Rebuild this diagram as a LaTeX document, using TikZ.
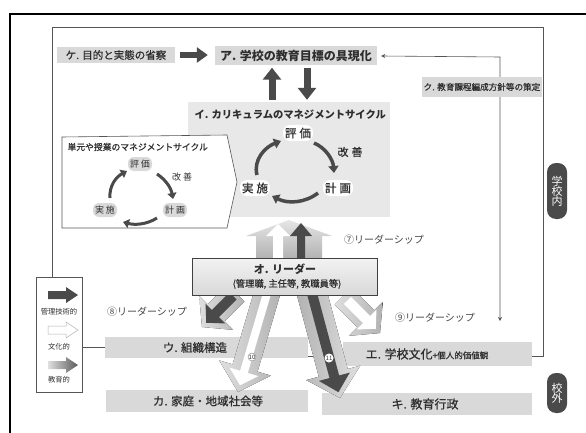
\documentclass[tikz,border=0pt]{standalone}
\usepackage{fontspec}
\setmainfont{Noto Sans CJK JP}
\newfontfamily\medfont{Noto Sans CJK JP}[FakeBold=0.8]
\usetikzlibrary{arrows.meta,calc}
\definecolor{boxg}{HTML}{D9D9D9}
\definecolor{regg}{HTML}{E8E8E8}
\definecolor{darkg}{HTML}{4A4A4A}
\definecolor{txt}{HTML}{2E2E2E}
\definecolor{lineg}{HTML}{555555}
\newcommand\warr[5]{\fill[#1] (-#2,-#3) -- (-#5,-#3) -- (-#5,-#4) -- (0,0) -- (-#5,#4) -- (-#5,#3) -- (-#2,#3) -- cycle;}
\newcommand\fs[1]{\fontsize{#1}{#1}\selectfont}
\begin{document}
\begin{tikzpicture}[x=1pt,y=-1pt,
  every node/.style={text=txt},
  box/.style={fill=boxg, inner sep=0pt},
  pill/.style={fill=boxg, rounded corners=6pt, inner sep=2pt, minimum height=14pt},
  wpill/.style={fill=white, rounded corners=7pt, inner sep=2pt, minimum height=16pt},
  bigarr/.style={draw=darkg, line width=7pt, -{Triangle[length=12pt,width=18pt]}},
  cyc/.style={draw=darkg, line width=3.5pt, -{Triangle[length=7pt,width=10pt]}},
  scyc/.style={draw=darkg, line width=3pt, -{Triangle[length=6pt,width=9pt]}},
  thinarr/.style={draw=lineg, line width=0.6pt},
  lab/.style={text=gray!55!black, font=\fs{10}},
  side/.style={fill=darkg, rounded corners=9pt, text=white, inner sep=2pt, minimum width=20pt, align=center, font=\fs{11}}
]
\useasboundingbox (0,0) rectangle (586,433);
\fill[white] (0,0) rectangle (586,433);
% black outer frame
\draw[line width=2.6pt] (10,433) -- (10,14) -- (586,14);
% school frame
\draw[lineg, line width=0.6pt] (52,280) -- (52,27) -- (543,27) -- (543,356) -- (300,356);

% top row
\node[box, minimum width=118pt, minimum height=16pt, font=\medfont\fs{10.5}] (ke) at (116,55) {ケ. 目的と実態の省察};
\node[box, minimum width=162pt, minimum height=19pt, font=\bfseries\fs{12}] (a) at (296,56) {ア. 学校の教育目標の具現化};
\coordinate (kc) at (500,57);
\coordinate (kb) at (500,321);
\draw[thinarr, {Stealth[length=4pt,width=4pt]}-{Stealth[length=4pt,width=4pt]}] ([xshift=4pt]a.east) -- (kc) -- (kb);
\node[box, minimum width=120pt, minimum height=20pt, font=\medfont\fs{8.6}] (ku) at (482,87) {ク. 教育課程編成方針等の策定};
\draw[draw=darkg, line width=6pt, -{Triangle[length=11pt,width=15pt]}, shorten <=5pt, shorten >=7pt] (ke.east) -- (ke.east -| a.west);

% curriculum region
\node[fill=regg, minimum width=202pt, minimum height=115pt, inner sep=0pt] (i) at (289,159.5) {};
\node[anchor=west, font=\bfseries\fs{10.3}] (ititle) at (191,115) {イ. カリキュラムのマネジメントサイクル};
\coordinate (upx) at (272,0);
\coordinate (dnx) at (307,0);
\draw[bigarr, shorten <=2pt, shorten >=2pt] (i.north -| upx) -- (a.south -| upx);
\draw[bigarr, shorten <=2pt, shorten >=2pt] (a.south -| dnx) -- (i.north -| dnx);

\node[wpill, font=\medfont\fs{11.5}] (ih) at (298,133) {評\hspace{3pt}価};
\node[wpill, font=\medfont\fs{11.5}] (ik) at (338,188) {計\hspace{3pt}画};
\node[wpill, font=\medfont\fs{11.5}] (ij) at (255,188) {実\hspace{3pt}施};
\node[font=\medfont\fs{11}] (ika) at (350,152) {改\hspace{3pt}善};
\draw[cyc] (257,175) .. controls (253,160) and (265,147) .. (281,141);
\draw[cyc] (314,143) .. controls (326,148) and (333,160) .. (334,173);
\draw[cyc] (318,193) .. controls (305,203) and (288,204) .. (272,196);

% unit/lesson cycle
\draw[lineg, fill=white, line width=0.6pt] (62,137) -- (227,135) -- (237,182) -- (227,228) -- (62,228) -- cycle;
\node[anchor=west, font=\medfont\fs{8.8}] (stitle) at (64,147) {単元や授業のマネジメントサイクル};
\node[pill, font=\fs{9}] (sh) at (140,164) {評\hspace{2pt}価};
\node[pill, font=\fs{9}] (sk) at (175,210) {計\hspace{2pt}画};
\node[pill, font=\fs{9}] (sj) at (105,210) {実\hspace{2pt}施};
\node[font=\fs{9}] (ska) at (182,177) {改\hspace{2pt}善};
\draw[scyc] (110,198) .. controls (109,186) and (116,177) .. (127,171);
\draw[scyc] (157,174) .. controls (166,180) and (171,188) .. (173,199);
\draw[scyc] (157,218) .. controls (146,225) and (134,225) .. (123,222);

% bottom boxes
\node[box, minimum width=203pt, minimum height=21pt] (u) at (206.5,347.5) {};
\node[font=\medfont\fs{11.5}] (ut) at (195,347.5) {ウ. 組織構造};
\node[box, minimum width=189pt, minimum height=24pt] (e) at (437.5,353.5) {};
\node[font=\medfont] (et) at (427,354) {\fs{12}エ. 学校文化\fs{8.5}+個人的価値観};
\node[box, minimum width=202pt, minimum height=22pt] (ka) at (207,401) {};
\node[font=\medfont\fs{11.5}] (kat) at (208,401) {カ. 家庭・地域社会等};
\node[box, minimum width=210pt, minimum height=22pt] (ki) at (427,404) {};
\node[font=\medfont\fs{12}] (kit) at (425,404) {キ. 教育行政};

% leadership arrows from leader
\begin{scope}[shift={(238,392)}, rotate=-106.4]
  \warr{left color=gray!25, right color=gray!60}{108}{13}{27}{25}
  \begin{scope}[shift={(-7,0)}]\warr{white}{100}{4}{15}{14}\end{scope}
\end{scope}
\begin{scope}[shift={(340,398)}, rotate=-75]
  \warr{left color=gray!60, right color=gray!25}{112}{15}{28}{26}
  \begin{scope}[shift={(-6,0)}]\warr{darkg}{104}{5}{16}{16}\end{scope}
\end{scope}
\begin{scope}[shift={(202,327)}, rotate=-135]
  \warr{left color=gray!25, right color=gray!60}{48}{12}{24}{20}
  \begin{scope}[shift={(-6,0)}]\warr{darkg}{38}{5}{14}{13}\end{scope}
\end{scope}
\begin{scope}[shift={(380,333)}, rotate=-45]
  \warr{left color=gray!25, right color=gray!60}{52}{12}{24}{20}
  \begin{scope}[shift={(-6,0)}]\warr{white}{40}{5}{14}{13}\end{scope}
\end{scope}
\node[circle, draw=gray, fill=white, inner sep=0pt, minimum size=8pt, font=\fs{6}] (n10) at (252,357) {10};
\node[circle, fill=white, inner sep=0pt, minimum size=9pt, font=\fs{6}] (n11) at (329,358) {11};

% (7) up arrow
\shade[top color=gray!20, bottom color=gray!60] (256,258) -- (256,236) -- (246,236) -- (289,220) -- (332,236) -- (322,236) -- (322,258) -- cycle;
\fill[white] (273,258) -- (273,236) -- (266,236) -- (278,224) -- (290,236) -- (283,236) -- (283,258) -- cycle;
\fill[darkg] (297,258) -- (297,236) -- (290,236) -- (301,223) -- (312,236) -- (305,236) -- (305,258) -- cycle;

% leader box
\node[draw=gray!50!black, line width=0.6pt, top color=gray!10, bottom color=gray!30, minimum width=185pt, minimum height=37pt, inner sep=0pt] (o) at (284.5,276.5) {};
\node[font=\bfseries\fs{11}] (ot1) at (285,269.5) {オ. リーダー};
\node[font=\medfont\fs{9.3}] (ot2) at (287,284) {(管理職, 主任等, 教職員等)};

% leadership labels
\node[lab] (l7) at (384,240) {⑦リーダーシップ};
\node[lab] (l8) at (147,312) {⑧リーダーシップ};
\node[lab] (l9) at (435,318) {⑨リーダーシップ};

% legend
\node[draw=lineg, fill=white, line width=0.6pt, minimum width=46pt, minimum height=115pt, inner sep=0pt] (leg) at (59,334.5) {};
\fill[darkg] (48,291) -- (66,291) -- (66,287) -- (78,295) -- (66,303) -- (66,299) -- (48,299) -- cycle;
\node[font=\fs{7.3}] (lg1) at (59,312) {管理技術的};
\draw[gray!60, fill=white, line width=0.5pt] (48,326) -- (66,326) -- (66,322) -- (78,330) -- (66,338) -- (66,334) -- (48,334) -- cycle;
\node[font=\fs{7.3}] (lg2) at (59,347) {文化的};
\shade[left color=gray!25, right color=gray!70!black] (48,361) -- (66,361) -- (66,357) -- (78,365) -- (66,373) -- (66,369) -- (48,369) -- cycle;
\node[font=\fs{7.3}] (lg3) at (59,380) {教育的};
\draw[lineg, line width=0.6pt] (leg.east |- u.west) -- (u.west);

% side labels
\node[side, minimum height=56pt] (gn) at (557,191) {学\\[-1pt]校\\[-1pt]内};
\node[side, minimum height=40pt] (gg) at (557,393) {校\\[-1pt]外};
\end{tikzpicture}
\end{document}
